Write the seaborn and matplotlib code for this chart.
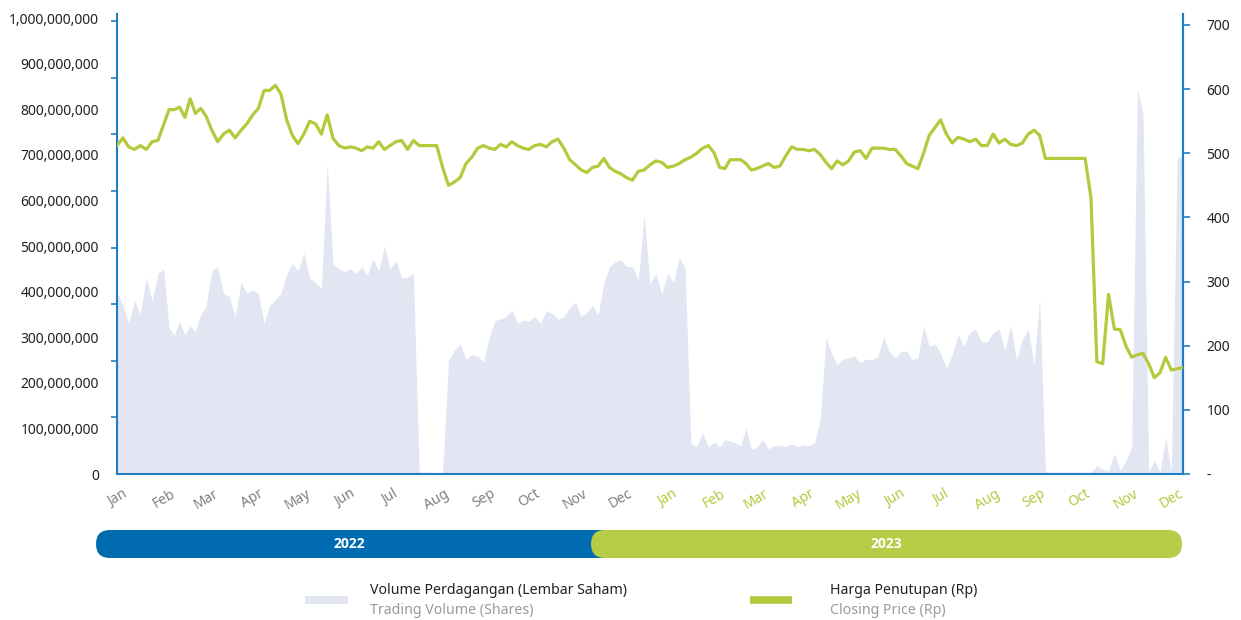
import numpy as np
import pandas as pd
import matplotlib
matplotlib.use("Agg")
import matplotlib.pyplot as plt
from matplotlib.patches import FancyBboxPatch, Rectangle
from matplotlib.lines import Line2D
from matplotlib.ticker import FuncFormatter
import seaborn as sns

month_labels = ['Jan', 'Feb', 'Mar', 'Apr', 'May', 'Jun',
                'Jul', 'Aug', 'Sep', 'Oct', 'Nov', 'Dec']
years = ['2022', '2023']
pts_per_month = 8

# closing price (Rp), 8 readings per month
price_2022 = [
    512, 524, 510, 506, 512, 506, 518, 520,   # Jan
    545, 568, 568, 572, 556, 585, 562, 570,   # Feb
    558, 536, 518, 530, 536, 524, 536, 546,   # Mar
    560, 570, 598, 598, 606, 592, 552, 528,   # Apr
    515, 530, 550, 546, 530, 560, 523, 512,   # May
    508, 510, 508, 504, 510, 508, 518, 506,   # Jun
    512, 518, 520, 506, 520, 512, 512, 512,   # Jul
    512, 478, 450, 455, 462, 484, 494, 508,   # Aug
    512, 508, 506, 514, 510, 518, 512, 508,   # Sep
    506, 512, 514, 510, 518, 522, 508, 490,   # Oct
    482, 474, 470, 478, 480, 492, 478, 472,   # Nov
    468, 462, 458, 472, 474, 482, 488, 486,   # Dec
]
price_2023 = [
    478, 480, 484, 490, 494, 500, 508, 512,   # Jan
    500, 478, 476, 490, 490, 490, 484, 474,   # Feb
    476, 480, 484, 478, 480, 496, 510, 506,   # Mar
    506, 504, 506, 498, 486, 476, 488, 482,   # Apr
    488, 502, 504, 492, 508, 508, 508, 506,   # May
    506, 496, 484, 480, 476, 500, 528, 540,   # Jun
    552, 530, 516, 525, 522, 518, 522, 512,   # Jul
    512, 530, 516, 522, 514, 512, 516, 530,   # Aug
    536, 528, 492, 492, 492, 492, 492, 492,   # Sep
    492, 492, 430, 175, 172, 280, 226, 225,   # Oct
    199, 182, 186, 188, 172, 150, 158, 182,   # Nov
    162, 164, 166,                            # Dec (first week)
]

# trading volume, million shares
volume_2022 = [
    400, 370, 330, 380, 350, 432, 380, 440,   # Jan
    450, 320, 305, 335, 305, 325, 312, 350,   # Feb
    366, 447, 455, 396, 389, 345, 420, 396,   # Mar
    404, 396, 330, 370, 382, 396, 438, 462,   # Apr
    445, 485, 430, 420, 405, 680, 460, 450,   # May
    444, 450, 440, 454, 436, 472, 445, 500,   # Jun
    450, 468, 430, 432, 440, 4, 4, 4,         # Jul
    3, 3, 248, 272, 285, 252, 262, 258,       # Aug
    245, 300, 336, 340, 345, 360, 330, 338,   # Sep
    335, 345, 330, 358, 352, 340, 345, 365,   # Oct
    376, 345, 355, 370, 348, 420, 455, 465,   # Nov
    470, 455, 455, 425, 570, 416, 440, 395,   # Dec
]
volume_2023 = [
    440, 420, 475, 450, 68, 60, 90, 60,       # Jan
    70, 60, 75, 72, 68, 62, 100, 55,          # Feb
    58, 76, 55, 62, 62, 60, 66, 60,           # Mar
    64, 62, 68, 120, 300, 265, 240, 252,      # Apr
    255, 258, 244, 252, 250, 258, 300, 268,   # May
    255, 268, 270, 250, 255, 325, 280, 285,   # Jun
    265, 232, 262, 305, 280, 310, 318, 290,   # Jul
    290, 310, 318, 270, 326, 250, 295, 318,   # Aug
    240, 385, 4, 4, 4, 4, 4, 4,               # Sep
    4, 4, 4, 18, 10, 6, 45, 8,                # Oct
    30, 60, 845, 790, 5, 30, 5, 80,           # Nov
    5, 690, 700,                              # Dec (first week)
]

# spread readings evenly through each month
month_starts = pd.date_range('2022-01-01', '2023-12-01', freq='MS')
n_total = len(price_2022) + len(price_2023)
dates = []
for m in month_starts:
    step = m.days_in_month / pts_per_month
    for i in range(pts_per_month):
        dates.append(m + pd.Timedelta(days=step * i))
dates = dates[:n_total]

df = pd.DataFrame({
    'date': dates,
    'price': price_2022 + price_2023,
    'volume': np.array(volume_2022 + volume_2023) * 1e6,
})

BLUE_AX = '#1f7fc6'
GREEN = '#b4c93c'
LAV = '#e2e6f3'
GREY = '#808080'

sns.set_style('white')
plt.rcParams['font.family'] = ['Noto Sans', 'DejaVu Sans']

fig = plt.figure(figsize=(12.41, 6.2), dpi=100)
ax = fig.add_axes([117 / 1241, 1 - 474 / 620, 1066 / 1241, 460 / 620])

ax.fill_between(df['date'], df['volume'], 0, color=LAV, lw=0, zorder=1)
ax.set_ylim(0, 1e9 * 460 / 456)
ax.set_xlim(pd.Timestamp('2022-01-01'), df['date'].iloc[-1])

ax.set_yticks(np.arange(0, 1.01e9, 1e8))
ax.yaxis.set_major_formatter(FuncFormatter(lambda v, p: f'{int(round(v)):,}'))
ax.set_yticks(np.linspace(0, 993e6, 9), minor=True)
ax.tick_params(axis='y', which='major', length=0, pad=13, labelsize=10, labelcolor='#222222')
ax.tick_params(axis='y', which='minor', length=4, width=1.2, color=BLUE_AX, direction='out')

ax.set_xticks(month_starts)
ax.set_xticklabels(month_labels * 2, rotation=30, ha='center')
ax.tick_params(axis='x', length=0, pad=9, labelsize=10)
for i, lab in enumerate(ax.get_xticklabels()):
    lab.set_color(GREY if i < 12 else GREEN)

ax.spines['top'].set_visible(False)
for side in ['left', 'bottom', 'right']:
    ax.spines[side].set_color(BLUE_AX)
    ax.spines[side].set_linewidth(1.5)

ax2 = ax.twinx()
sns.lineplot(data=df, x='date', y='price', ax=ax2, color=GREEN, lw=2.3, zorder=3)
ax2.set_ylim(0, 700 * 460 / 449)
ax2.set_yticks(np.arange(0, 701, 100))
ax2.set_yticklabels(['-'] + [str(v) for v in range(100, 701, 100)])
ax2.tick_params(axis='y', length=5, width=1.2, color=BLUE_AX, pad=12, labelsize=10,
                labelcolor='#222222')
ax2.set_ylabel('')
ax2.set_xlabel('')
ax.set_xlabel('')
for side in ['top', 'left', 'bottom']:
    ax2.spines[side].set_visible(False)
ax2.spines['right'].set_color(BLUE_AX)
ax2.spines['right'].set_linewidth(1.5)
ax2.set_xlim(ax.get_xlim())

# year band and legend drawn in pixel space
lay = fig.add_axes([0, 0, 1, 1])
lay.set_xlim(0, 1241)
lay.set_ylim(620, 0)
lay.axis('off')
lay.patch.set_alpha(0)

lay.add_patch(FancyBboxPatch((96, 530), 530, 28, boxstyle='round,pad=0,rounding_size=14',
                             fc='#006bb0', ec='none'))
lay.add_patch(FancyBboxPatch((591, 530), 591, 28, boxstyle='round,pad=0,rounding_size=14',
                             fc='#b5cc45', ec='none'))
for x, yr in zip([349, 886], years):
    lay.text(x, 544, yr, color='white', fontsize=10, fontweight='bold',
             family=['Open Sans', 'DejaVu Sans'], ha='center', va='center')

lay.add_patch(Rectangle((305, 596), 43, 8, fc=LAV, ec='none'))
lay.add_line(Line2D([750, 792], [600, 600], color=GREEN, lw=5.5, solid_capstyle='butt'))
lay.text(370, 591, 'Volume Perdagangan (Lembar Saham)', fontsize=10.2, color='#222222', va='center')
lay.text(370, 611, 'Trading Volume (Shares)', fontsize=10.2, color='#9a9a9a', va='center')
lay.text(830, 591, 'Harga Penutupan (Rp)', fontsize=10.2, color='#222222', va='center')
lay.text(830, 611, 'Closing Price (Rp)', fontsize=10.2, color='#9a9a9a', va='center')

fig.savefig('out.png', dpi=100)
